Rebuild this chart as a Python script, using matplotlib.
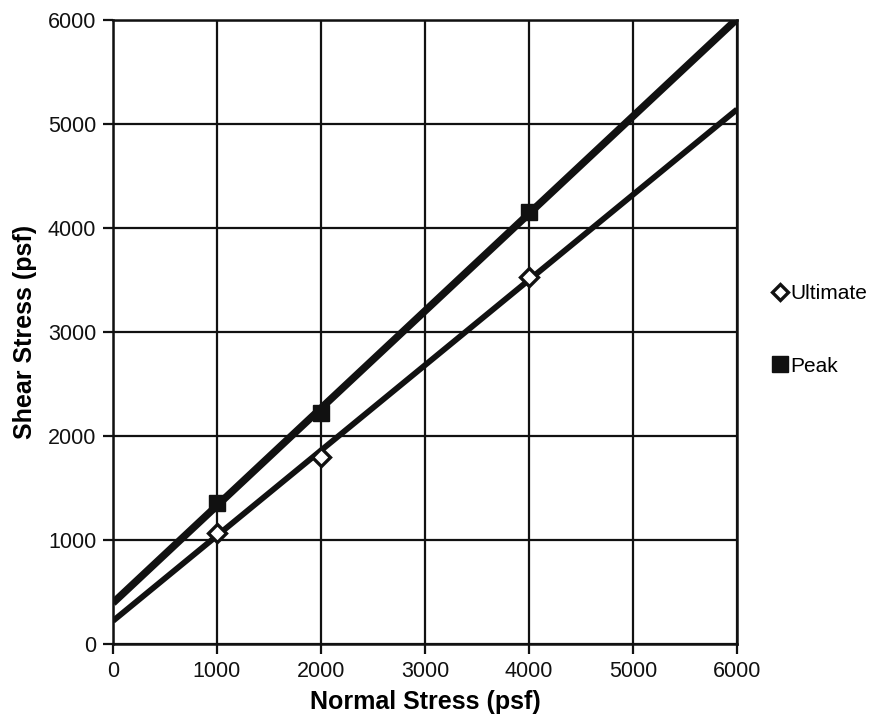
import matplotlib
matplotlib.use("Agg")
import matplotlib.pyplot as plt
from matplotlib.lines import Line2D

plt.rcParams['font.family'] = ['Liberation Sans', 'DejaVu Sans']

# Direct shear test results (psf)
normal_stress = [1000, 2000, 4000]
peak_shear = [1356, 2224, 4157]
ultimate_shear = [1070, 1800, 3532]

# Failure envelope end points (linear trendlines)
trend_x = [0, 6000]
peak_trend = [395, 6010]
ultimate_trend = [222, 5140]

ticks = [0, 1000, 2000, 3000, 4000, 5000, 6000]

fig = plt.figure(figsize=(8.77, 7.23), dpi=100)
ax = fig.add_axes([113 / 877, 1 - 644 / 723, 624 / 877, 624 / 723])

ax.plot(trend_x, peak_trend, color='#111111', lw=5.4, solid_capstyle='butt', zorder=3)
ax.plot(trend_x, ultimate_trend, color='#111111', lw=4.2, solid_capstyle='butt', zorder=3)

ax.plot(normal_stress, ultimate_shear, ls='none', marker='D', ms=9.5,
        mfc='white', mec='#111111', mew=2.4, zorder=4)
ax.plot(normal_stress, peak_shear, ls='none', marker='s', ms=12,
        mfc='#111111', mec='#111111', zorder=4)

ax.set_xlim(0, 6000)
ax.set_ylim(0, 6000)
ax.set_xticks(ticks)
ax.set_yticks(ticks)
ax.grid(True, color='#111111', lw=1.6)
ax.set_axisbelow(True)
for s in ax.spines.values():
    s.set_linewidth(1.8)
    s.set_color('#111111')
ax.tick_params(axis='both', direction='out', length=7, width=1.6,
               labelsize=15.5, colors='#111111', pad=5)

ax.set_xlabel('Normal Stress (psf)', fontsize=18, fontweight='bold', labelpad=6)
ax.set_ylabel('Shear Stress (psf)', fontsize=18, fontweight='bold', labelpad=8)

handles = [
    Line2D([], [], ls='none', marker='D', ms=8, mfc='white', mec='#111111', mew=2.4),
    Line2D([], [], ls='none', marker='s', ms=11, mfc='#111111', mec='#111111'),
]
fig.legend(handles, ['Ultimate', 'Peak'], loc='upper left',
           bbox_to_anchor=(763 / 877, 1 - 274 / 723), frameon=False,
           fontsize=15, handlelength=0.6, handletextpad=0.2,
           labelspacing=2.55, borderpad=0)

fig.savefig('out.png', dpi=100)
